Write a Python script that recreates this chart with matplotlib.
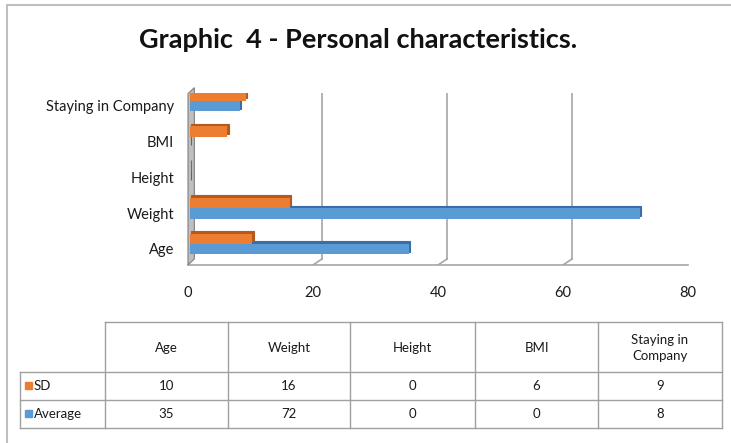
import numpy as np
import matplotlib
matplotlib.use("Agg")
import matplotlib.pyplot as plt
from matplotlib.patches import Rectangle, Polygon
from matplotlib.transforms import ScaledTranslation

# data
categories = ["Age", "Weight", "Height", "BMI", "Staying in Company"]
table_headers = ["Age", "Weight", "Height", "BMI", "Staying in\nCompany"]
sd_values = [10, 16, 0, 6, 9]
avg_values = [35, 72, 0, 0, 8]
series_names = ["SD", "Average"]
x_ticks = [0, 20, 40, 60, 80]

plt.rcParams['font.family'] = ['Lato', 'DejaVu Sans']

W, H = 731, 443
fig = plt.figure(figsize=(W / 100, H / 100), dpi=100)

ORANGE, ORANGE_D = "#ED7D31", "#B45A1C"
BLUE, BLUE_D = "#5B9BD5", "#3A6EA5"
GRID = "#A6A6A6"


def px_box(x0, y0, x1, y1):
    # pixel box (top-left origin) -> figure fraction rect
    return [x0 / W, 1 - y1 / H, (x1 - x0) / W, (y1 - y0) / H]


# main 3d-looking bar chart
ax = fig.add_axes(px_box(188, 93, 688, 265))
ylo, yhi = -0.587, 4.22
ax.set_xlim(0, 80)
ax.set_ylim(ylo, yhi)
for s in ax.spines.values():
    s.set_visible(False)

DX, DY = 1.45, 0.17   # depth of the back wall in data units
for xv in x_ticks[1:]:
    ax.plot([xv + DX, xv + DX], [ylo + DY, yhi], color=GRID, lw=1.2, zorder=1)
    ax.plot([xv, xv + DX], [ylo, ylo + DY], color=GRID, lw=1.2, zorder=1)
ax.plot([0, 80], [ylo, ylo], color=GRID, lw=1.2, zorder=1, clip_on=False)
# left wall
wall = Polygon([(0, ylo), (DX * 0.7, ylo + DY), (DX * 0.7, yhi + 0.15), (0, yhi + 0.15 - DY)],
               closed=True, facecolor="#BFBFBF", edgecolor="#7F7F7F", lw=0.8, zorder=2,
               clip_on=False)
ax.add_patch(wall)

y = np.arange(len(categories))
bh = 0.29
bdx, bdy = 0.5, 0.07
for vals, off, c, cd in [(sd_values, bh / 2, ORANGE, ORANGE_D),
                         (avg_values, -bh / 2, BLUE, BLUE_D)]:
    ax.barh(y + off + bdy, vals, height=bh, left=bdx, color=cd, edgecolor=cd,
            lw=0.8, zorder=3)
    ax.barh(y + off, vals, height=bh, left=0.3, color=c, lw=0, zorder=4)

ax.set_yticks(y)
ax.set_yticklabels(categories, fontsize=10.5, color="#1a1a1a")
ax.set_xticks(x_ticks)
ax.set_xticklabels([str(v) for v in x_ticks], fontsize=10.5, color="#1a1a1a")
ax.tick_params(axis="both", length=0)
ax.tick_params(axis="x", pad=15)
ax.tick_params(axis="y", pad=10)
shift = ScaledTranslation(0, -5 / 100, fig.dpi_scale_trans)
for lab in ax.get_yticklabels():
    lab.set_transform(lab.get_transform() + shift)

# title
fig.text(358 / W, 1 - 40 / H, "Graphic  4 - Personal characteristics.", ha="center",
         va="center", fontsize=19.5, fontweight="bold", color="#111111")

# overlay in pixel coords for the frame and data table
ov = fig.add_axes([0, 0, 1, 1], zorder=-1)
ov.set_xlim(0, W)
ov.set_ylim(H, 0)
ov.axis("off")
ov.plot([7, 7, W], [H, 5, 5], color="#BFBFBF", lw=1.5)

col_edges = [20, 105, 228, 350, 475, 598, 722]
row_edges = [322, 372, 400, 428]
LC = "#A0A0A0"
# horizontal lines
ov.plot([105, 722], [322, 322], color=LC, lw=1)
for ry in row_edges[1:]:
    ov.plot([20, 722], [ry, ry], color=LC, lw=1)
# vertical lines
ov.plot([20, 20], [372, 428], color=LC, lw=1)
for cx in col_edges[1:]:
    ov.plot([cx, cx], [322, 428], color=LC, lw=1)

ov2 = fig.add_axes([0, 0, 1, 1])
ov2.set_xlim(0, W)
ov2.set_ylim(H, 0)
ov2.axis("off")
TF = 9.5
centers = [(col_edges[i] + col_edges[i + 1]) / 2 for i in range(1, 6)]
for cx, lab in zip(centers, table_headers):
    ov2.text(cx, 348, lab, ha="center", va="center", fontsize=TF, color="#1a1a1a",
             linespacing=1.3)
for ry0, ry1, name, vals, c in [(372, 400, series_names[0], sd_values, ORANGE),
                                (400, 428, series_names[1], avg_values, BLUE)]:
    yc = (ry0 + ry1) / 2
    ov2.add_patch(Rectangle((25, yc - 4), 7, 7, color=c))
    ov2.text(34, yc, name, ha="left", va="center", fontsize=TF, color="#1a1a1a")
    for cx, v in zip(centers, vals):
        ov2.text(cx, yc, str(v), ha="center", va="center", fontsize=TF, color="#1a1a1a")

fig.savefig("out.png", dpi=100, facecolor="white")
